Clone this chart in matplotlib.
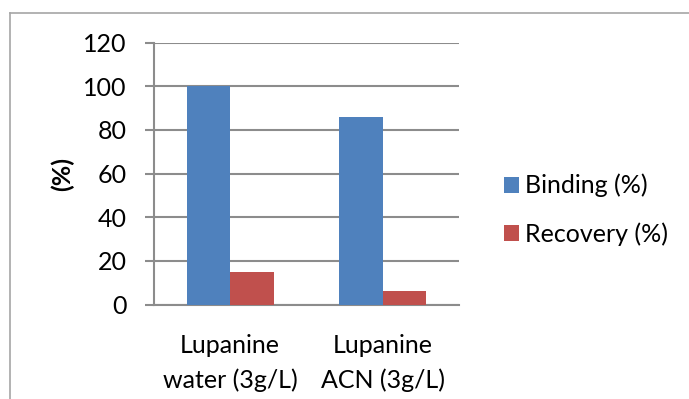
import matplotlib
matplotlib.use("Agg")
import matplotlib.pyplot as plt
import numpy as np
from matplotlib.lines import Line2D

categories = ["Lupanine\nwater (3g/L)", "Lupanine\nACN (3g/L)"]
binding = [100, 86]
recovery = [15, 6]
yticks = [0, 20, 40, 60, 80, 100, 120]

BLUE = "#4F81BD"
RED = "#C0504D"
GRID = "#8C8C8C"
FS = 18

plt.rcParams["font.family"] = ["Lato", "DejaVu Sans"]

fig = plt.figure(figsize=(6.89, 3.99), dpi=100)
ax = fig.add_axes([154 / 689, 1 - 304.5 / 399, (459 - 154) / 689, (304.5 - 42.5) / 399])

x = np.arange(len(categories))
w = 0.286
ax.bar(x - w / 2, binding, w, color=BLUE, label="Binding (%)", zorder=3)
ax.bar(x + w / 2, recovery, w, color=RED, label="Recovery (%)", zorder=3)

ax.set_xlim(-0.5, len(categories) - 0.5)
ax.set_ylim(0, 120)
ax.set_yticks(yticks)
ax.set_yticklabels([str(t) for t in yticks])
ax.set_xticks(x)
ax.set_xticklabels(categories, linespacing=1.62)
ax.yaxis.grid(True, color=GRID, linewidth=1.5, zorder=0)
ax.set_axisbelow(True)

for s in ["top", "right"]:
    ax.spines[s].set_visible(False)
ax.spines["left"].set_color(GRID)
ax.spines["left"].set_linewidth(1.5)
ax.spines["bottom"].set_color(GRID)
ax.spines["bottom"].set_linewidth(1.5)

ax.tick_params(axis="y", length=6.5, width=1.5, color=GRID, labelsize=FS, pad=13)
ax.tick_params(axis="x", length=0, labelsize=FS, pad=21)

ax.set_ylabel("(%)", fontsize=FS, fontweight="bold", labelpad=7)

leg = ax.legend(loc="center left", bbox_to_anchor=(1.148, 0.361), frameon=False,
                fontsize=FS, handlelength=0.6, handleheight=0.6,
                handletextpad=0.25, labelspacing=1.0, borderpad=0,
                borderaxespad=0)

# outer chart border (left and top edges)
bx, by = 10 / 689, 1 - 12.5 / 399
fig.add_artist(Line2D([bx, bx], [0, by], color="#A6A6A6", linewidth=1.2,
                      transform=fig.transFigure))
fig.add_artist(Line2D([bx, 1], [by, by], color="#A6A6A6", linewidth=1.2,
                      transform=fig.transFigure))

fig.savefig("out.png", dpi=100)
